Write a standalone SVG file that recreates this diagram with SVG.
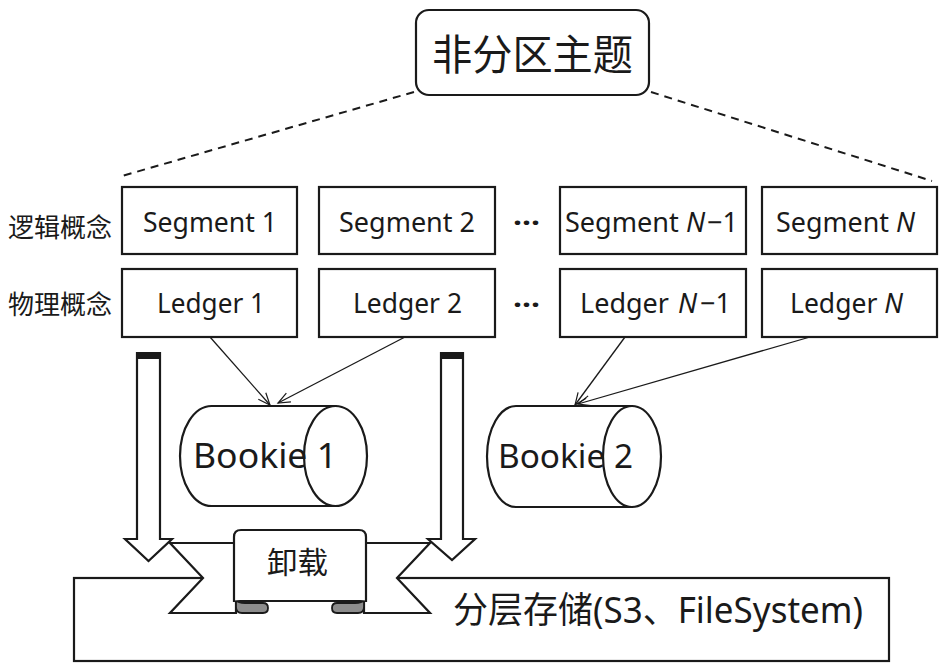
<svg xmlns="http://www.w3.org/2000/svg" width="943" height="666" viewBox="0 0 943 666">
<style>
.box{fill:#fff;stroke:#1a1a1a;stroke-width:2.2}
.lat{font-family:"Noto Sans","Open Sans","Noto Sans CJK SC",sans-serif;fill:#1a1a1a}
.cjk{font-family:"Noto Sans CJK SC","Noto Sans",sans-serif;fill:#1a1a1a}
.dash{fill:none;stroke:#1a1a1a;stroke-width:2;stroke-dasharray:8 6}
.conn{fill:none;stroke:#1a1a1a;stroke-width:1.3}
.curl{fill:#8c8c8c;stroke:#1a1a1a;stroke-width:1.8}
</style>
<defs>
<marker id="open" markerUnits="userSpaceOnUse" markerWidth="16" markerHeight="14" refX="13" refY="6" orient="auto">
<path d="M1,1 L13,6 L1,11" fill="none" stroke="#1a1a1a" stroke-width="1.2"/>
</marker>
</defs>
<rect width="943" height="666" fill="#fff"/>

<g id="storage">
<rect class="box" x="74" y="578" width="815" height="83"/>
<text class="cjk" x="453" y="623" font-size="36" textLength="410" lengthAdjust="spacingAndGlyphs">分层存储<tspan class="lat">(S3</tspan>、<tspan class="lat">FileSystem)</tspan></text>
</g>

<g id="offload">
<path class="box" d="M170,543 H236 V613 H170 L203,578 Z"/>
<path class="box" d="M430,543 H364 V613 H430 L397,578 Z"/>
<path class="curl" d="M236,600 V607 Q236,613 242,613 H263 Q268,613 268,608 Q268,603 263,603 H245 Q238,603 236,600 Z"/>
<path class="curl" d="M364,600 V607 Q364,613 358,613 H337 Q332,613 332,608 Q332,603 337,603 H355 Q362,603 364,600 Z"/>
<path class="box" d="M234,602 V537 Q234,530 241,530 H359 Q366,530 366,537 V602 Q366,601 360,601 H240 Q234,601 234,602 Z"/>
<text class="cjk" x="267" y="573" font-size="30" textLength="61" lengthAdjust="spacingAndGlyphs">卸载</text>
</g>

<g id="topic">
<rect class="box" x="416" y="10" width="233" height="85" rx="13"/>
<text class="cjk" x="432" y="70" font-size="42" textLength="201" lengthAdjust="spacingAndGlyphs">非分区主题</text>
</g>

<g id="labels">
<text class="cjk" x="8" y="237" font-size="26" textLength="104" lengthAdjust="spacingAndGlyphs">逻辑概念</text>
<text class="cjk" x="8" y="314" font-size="26" textLength="104" lengthAdjust="spacingAndGlyphs">物理概念</text>
<text class="lat" x="513" y="232" font-size="26" font-weight="bold" textLength="27" lengthAdjust="spacingAndGlyphs">···</text>
<text class="lat" x="513" y="314" font-size="26" font-weight="bold" textLength="27" lengthAdjust="spacingAndGlyphs">···</text>
</g>

<g id="segment1"><rect class="box" x="122" y="187" width="175" height="67"/>
<text class="lat" x="143" y="232" font-size="27" textLength="134" lengthAdjust="spacingAndGlyphs">Segment 1</text></g>
<g id="segment2"><rect class="box" x="319" y="187" width="176" height="67"/>
<text class="lat" x="339" y="232" font-size="27" textLength="136" lengthAdjust="spacingAndGlyphs">Segment 2</text></g>
<g id="segmentN-1"><rect class="box" x="560" y="187" width="186" height="67"/>
<text class="lat" x="565" y="232" font-size="27" textLength="173" lengthAdjust="spacingAndGlyphs">Segment <tspan font-style="italic">N</tspan><tspan dx="2">−1</tspan></text></g>
<g id="segmentN"><rect class="box" x="762" y="187" width="175" height="67"/>
<text class="lat" x="776" y="232" font-size="27" textLength="139" lengthAdjust="spacingAndGlyphs">Segment <tspan font-style="italic">N</tspan></text></g>

<g id="ledger1"><rect class="box" x="122" y="269" width="175" height="68"/>
<text class="lat" x="157" y="313" font-size="27" textLength="108" lengthAdjust="spacingAndGlyphs">Ledger 1</text></g>
<g id="ledger2"><rect class="box" x="319" y="269" width="176" height="68"/>
<text class="lat" x="353" y="313" font-size="27" textLength="109" lengthAdjust="spacingAndGlyphs">Ledger 2</text></g>
<g id="ledgerN-1"><rect class="box" x="560" y="269" width="186" height="68"/>
<text class="lat" x="580" y="313" font-size="27">Ledger <tspan font-style="italic" dx="2">N</tspan><tspan dx="3">−1</tspan></text></g>
<g id="ledgerN"><rect class="box" x="762" y="269" width="175" height="68"/>
<text class="lat" x="790" y="313" font-size="27" textLength="113" lengthAdjust="spacingAndGlyphs">Ledger <tspan font-style="italic">N</tspan></text></g>

<g id="bookie1">
<path class="box" d="M211.5,406 H335.5 V506 H211.5 A31.5,50 0 0 1 211.5,406 Z"/>
<ellipse class="box" cx="335.5" cy="456" rx="31.5" ry="50"/>
<text class="lat" x="193" y="468" font-size="35" textLength="144" lengthAdjust="spacingAndGlyphs">Bookie 1</text>
</g>
<g id="bookie2">
<path class="box" d="M516,406 H632 V507 H516 A29,50.5 0 0 1 516,406 Z"/>
<ellipse class="box" cx="632" cy="456.5" rx="29" ry="50.5"/>
<text class="lat" x="498" y="468" font-size="33" textLength="135" lengthAdjust="spacingAndGlyphs">Bookie 2</text>
</g>

<g id="connectors">
<path class="dash" d="M414,92 L122,176"/>
<path class="dash" d="M651,92 L932,181"/>
<path class="conn" marker-end="url(#open)" d="M210,337 L270,405"/>
<path class="conn" marker-end="url(#open)" d="M405,337 L278,403"/>
<path class="conn" marker-end="url(#open)" d="M625,337 L575,405"/>
<path class="conn" marker-end="url(#open)" d="M810,337 L578,404"/>
<path class="box" d="M137,353 H160 V539 H172 L148.5,561 L125,539 H137 Z"/>
<rect x="137" y="353" width="23" height="6" fill="#1a1a1a"/>
<path class="box" d="M441,353 H463 V539 H475 L452,560 L428,539 H441 Z"/>
<rect x="441" y="353" width="22" height="6" fill="#1a1a1a"/>
</g>
</svg>
